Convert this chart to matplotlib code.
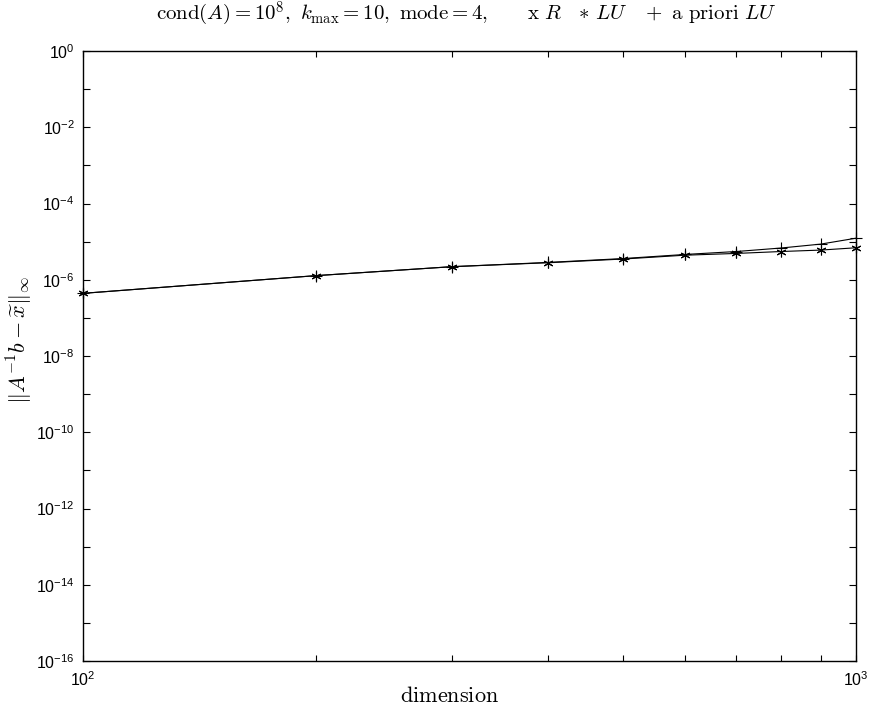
import numpy as np
import matplotlib
matplotlib.use("Agg")
import matplotlib.pyplot as plt
from matplotlib.ticker import FixedLocator, FuncFormatter, NullFormatter

plt.rcParams['font.family'] = ['Liberation Sans', 'DejaVu Sans']
plt.rcParams['mathtext.fontset'] = 'cm'

# data
dims = [100, 200, 300, 400, 500, 600, 700, 800, 900, 1000]
err_lu = [4.4e-7, 1.28e-6, 2.2e-6, 2.8e-6, 3.5e-6, 4.4e-6, 4.9e-6, 5.5e-6, 6.0e-6, 6.9e-6]
err_apriori = [4.4e-7, 1.28e-6, 2.2e-6, 2.85e-6, 3.6e-6, 4.6e-6, 5.5e-6, 6.8e-6, 8.6e-6, 1.23e-5]

title_str = (r'$\mathrm{cond}(A){=}10^8,\ k_{\max}=10,\ \mathrm{mode}{=}4,\qquad'
             r'\mathrm{x}\ R\quad {*}\ LU\quad +\ \mathrm{a\ priori}\ LU$')

fig = plt.figure(figsize=(8.71, 7.10), dpi=100)
ax = fig.add_axes([83/871, 49/710, (856-83)/871, (661-51)/710])

asterisk = (6, 2, 0)
ax.plot(dims, err_apriori, '-', color='black', lw=0.8, marker='+', ms=9, mew=0.8, clip_on=False)
ax.plot(dims, err_lu, '-', color='black', lw=0.8, marker=asterisk, ms=7, mew=0.8, clip_on=False)

ax.set_xscale('log')
ax.set_yscale('log')
ax.set_xlim(100, 1000)
ax.set_ylim(1e-16, 1)

ax.xaxis.set_major_locator(FixedLocator([100, 1000]))
ax.xaxis.set_minor_locator(FixedLocator(dims[1:-1]))
ax.xaxis.set_minor_formatter(NullFormatter())
ax.yaxis.set_major_locator(FixedLocator([10.0**k for k in range(-16, 1, 2)]))
ax.yaxis.set_minor_locator(FixedLocator([10.0**k for k in range(-15, 0, 2)]))
ax.yaxis.set_minor_formatter(NullFormatter())

fmt = FuncFormatter(lambda v, p: r'$\mathregular{10^{%d}}$' % round(np.log10(v)))
ax.xaxis.set_major_formatter(fmt)
ax.yaxis.set_major_formatter(fmt)

ax.tick_params(which='both', direction='in', top=True, right=True, labelsize=11.5)
ax.tick_params(axis='y', which='both', length=5, width=0.8, pad=6)
ax.tick_params(axis='x', which='both', length=4, width=0.8, pad=7)
for s in ax.spines.values():
    s.set_linewidth(1.0)

fig.text(466/871, 1 - 14/710, title_str, ha='center', va='center', fontsize=15)
fig.text(450/871, 1 - 697/710, r'$\mathrm{dimension}$', ha='center', va='center', fontsize=16)
fig.text(20/871, 1 - 340/710, r'$\|A^{-1}b-\widetilde{x}\|_\infty$', ha='center',
         va='center', rotation=90, fontsize=16)

fig.savefig('out.png', dpi=100)
